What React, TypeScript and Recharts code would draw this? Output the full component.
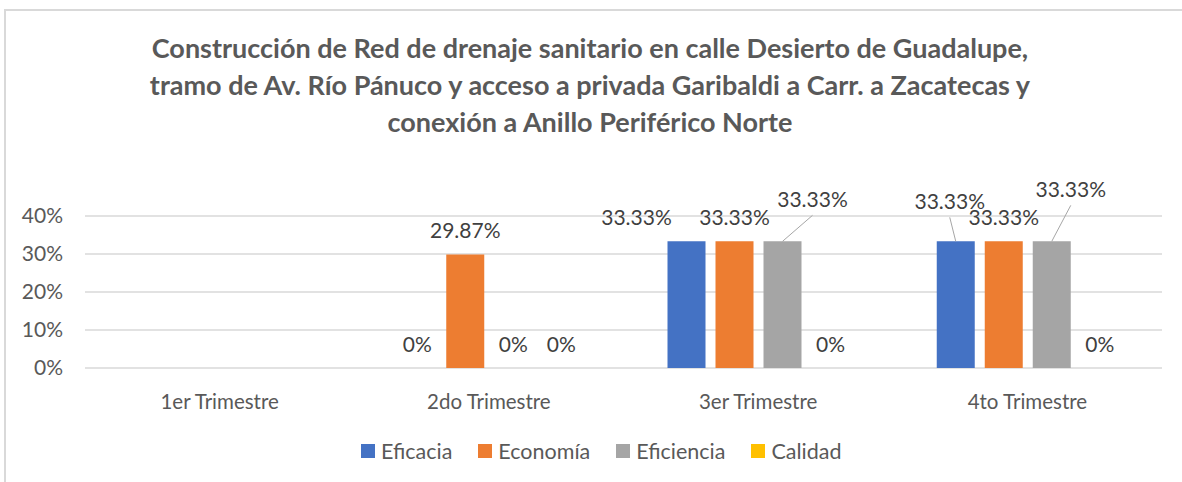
import React from "react";
import {BarChart, Bar, XAxis, YAxis, CartesianGrid, Rectangle} from "recharts";

if (typeof document !== "undefined") {
    document.documentElement.style.overflow = "hidden";
    document.body.style.overflow = "hidden";
}

const trimestres = ["1er Trimestre", "2do Trimestre", "3er Trimestre", "4to Trimestre"];
const eficacia = [null, 0, 33.33, 33.33];
const economia = [null, 29.87, 33.33, 33.33];
const eficiencia = [null, 0, 33.33, 33.33];
const calidad = [null, 0, 0, 0];
const yTicks = [0, 10, 20, 30, 40];

const titleLines = [
    "Construcción de Red de drenaje sanitario en calle Desierto de Guadalupe,",
    "tramo de Av. Río Pánuco y acceso a privada Garibaldi a Carr. a Zacatecas y",
    "conexión a Anillo Periférico Norte",
];

const series = [
    {key: "eficacia", name: "Eficacia", color: "#4472C4"},
    {key: "economia", name: "Economía", color: "#ED7D31"},
    {key: "eficiencia", name: "Eficiencia", color: "#A5A5A5"},
    {key: "calidad", name: "Calidad", color: "#FFC000"},
];

const data = trimestres.map((t, i) => ({
    trimestre: t,
    eficacia: eficacia[i],
    economia: economia[i],
    eficiencia: eficiencia[i],
    calidad: calidad[i],
}));

// ajustes manuales de etiquetas (como las movió Excel), con línea guía
const labelShift: Record<string, { dx: number; dy: number; leader?: boolean }> = {
    "eficacia-2": {dx: -50, dy: 0},
    "eficiencia-2": {dx: 30, dy: -18, leader: true},
    "eficacia-3": {dx: -6, dy: -16, leader: true},
    "eficiencia-3": {dx: 19, dy: -28, leader: true},
};

const FONT = "Lato, 'Open Sans', sans-serif";

// barra + etiqueta de datos (así también salen las etiquetas de 0%)
const makeShape = (key: string) => (props: any) => {
    const {x, y, width, height, fill, payload} = props;
    const value = payload ? payload[key] : null;
    if (value === null || value === undefined) return <g/>;
    const idx = trimestres.indexOf(payload.trimestre);
    const cx = Number(x) + Number(width) / 2;
    const top = Number(y);
    const s = labelShift[`${key}-${idx}`] || {dx: 0, dy: 0};
    const lx = cx + s.dx;
    const ly = top - 25 + s.dy;
    return (
        <g>
            {Number(height) > 0 && <Rectangle x={x} y={y} width={width} height={height} fill={fill}/>}
            {s.leader && (
                <line x1={cx} y1={top} x2={lx} y2={ly + 17} stroke="#A6A6A6" strokeWidth={1}/>
            )}
            <text x={lx} y={ly} textAnchor="middle" dominantBaseline="central"
                  fill="#404040" fontSize={21} fontFamily={FONT}>
                {`${value}%`}
            </text>
        </g>
    );
};

export default function App() {
    return (
        <div style={{position: "absolute", left: 0, top: 0, width: 1182, height: 482, overflow: "hidden", background: "#fff", fontFamily: FONT}}>
            <div style={{position: "absolute", left: 4, top: 9, width: 1200, height: 500, border: "2px solid #D9D9D9", boxSizing: "border-box"}}/>
            <div style={{position: "absolute", left: 0, top: 29, width: 1180, textAlign: "center", color: "#595959", fontWeight: 700, fontSize: 27, lineHeight: "37px"}}>
                {titleLines.map((l) => <div key={l}>{l}</div>)}
            </div>
            <div style={{position: "absolute", left: 0, top: 0}}>
                <BarChart width={1182} height={482} data={data} barSize={38} barGap={10}
                          margin={{top: 216, right: 20, bottom: 84, left: 0}}>
                    <CartesianGrid vertical={false} stroke="#D9D9D9" strokeWidth={1.5}/>
                    <XAxis dataKey="trimestre" axisLine={false} tickLine={false} tickMargin={20} height={30}
                           tick={{fill: "#595959", fontSize: 20.5, fontFamily: FONT}}/>
                    <YAxis domain={[0, 40]} ticks={yTicks} axisLine={false} tickLine={false} width={85}
                           tickMargin={16} tickFormatter={(v) => `${v}%`} interval={0}
                           tick={{fill: "#595959", fontSize: 21, fontFamily: FONT}}/>
                    {series.map((s) => (
                        <Bar key={s.key} dataKey={s.key} name={s.name} fill={s.color}
                             isAnimationActive={false} shape={makeShape(s.key)}/>
                    ))}
                </BarChart>
            </div>
            <div style={{position: "absolute", left: 361, top: 438, display: "flex", gap: 26, color: "#595959", fontSize: 21.5}}>
                {series.map((s) => (
                    <div key={s.key} style={{display: "flex", alignItems: "center", gap: 6}}>
                        <span style={{width: 14, height: 14, background: s.color, display: "inline-block"}}/>
                        <span>{s.name}</span>
                    </div>
                ))}
            </div>
        </div>
    );
}
